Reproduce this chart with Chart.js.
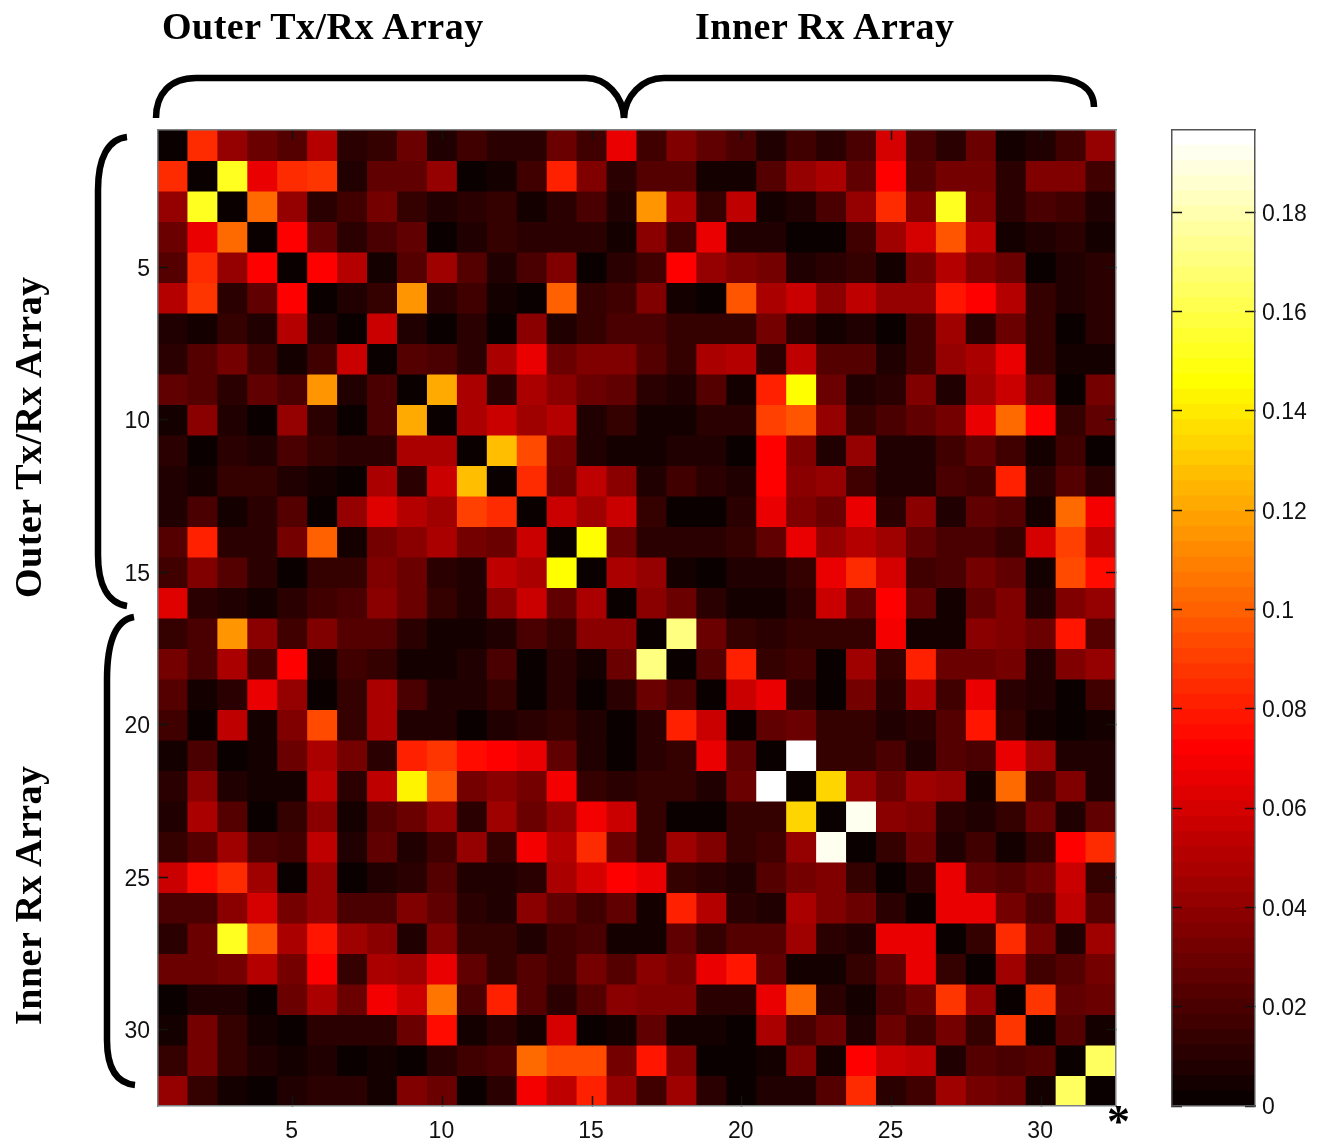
<!DOCTYPE html>
<html>
<head>
<meta charset="utf-8">
<title>Array coupling matrix</title>
<script src="https://cdn.jsdelivr.net/npm/chart.js@4/dist/chart.umd.min.js"></script>
<style>
    html, body { margin: 0; padding: 0; background: #fff; overflow: hidden; }
    #page { position: relative; width: 1328px; height: 1144px; }
    canvas { position: absolute; top: 0; }
    #matrixChart { left: 0; }
    #barChart { left: 1100px; }
    #braces { position: absolute; left: 0; top: 0; }
    .label {
        position: absolute;
        font: bold 38px "Liberation Serif", serif;
        letter-spacing: 0.5px;
        line-height: 1;
        white-space: nowrap;
        color: #000;
    }
    .vert { transform-origin: 0 0; transform: rotate(-90deg); }
</style>
</head>
<body>
<div id="page">
    <canvas id="matrixChart" width="1328" height="1144"></canvas>
    <canvas id="barChart" width="228" height="1144"></canvas>
    <svg id="braces" width="1328" height="1144" fill="none" stroke="#000" stroke-width="6.5">
        <path d="M156 118 C156 94 170 78 196 78 L586 78 C606 78 623 96 624 118"/>
        <path d="M624 118 C625 96 642 78 664 78 L1050 78 C1078 78 1094 88 1094 107"/>
        <path d="M127 137 C108 139 98 158 98 190 L98 555 C98 585 108 603 127 606"/>
        <path d="M134 617 C116 620 107 640 107 680 L107 1040 C107 1068 116 1083 135 1085"/>
    </svg>
    <div class="label" style="left:162px;top:7px">Outer Tx/Rx Array</div>
    <div class="label" style="left:695px;top:7px">Inner Rx Array</div>
    <div class="label vert" style="left:9px;top:598px">Outer Tx/Rx Array</div>
    <div class="label vert" style="left:9px;top:1025px">Inner Rx Array</div>
    <div class="label" style="left:1107px;top:1099px;font-size:46px">*</div>
</div>
<script>
// matrix values, in units of 0.001
const row01 = [1,85,41,28,24,51,11,13,30,9,17,12,12,30,18,65,16,34,26,19,7,18,11,19,60,20,11,30,4,8,17,43];
const row02 = [85,1,152,65,85,87,8,27,27,40,2,6,17,82,36,12,22,22,6,4,23,41,49,26,73,22,32,32,10,35,35,18];
const row03 = [41,152,1,104,43,11,16,33,15,9,11,14,6,12,21,8,116,49,14,53,4,7,20,42,84,34,153,34,10,20,18,8];
const row04 = [30,65,104,1,73,26,11,21,27,2,8,13,11,11,11,4,39,18,67,7,7,3,1,18,46,61,97,53,4,8,12,4];
const row05 = [22,85,41,73,1,71,50,6,22,45,22,9,21,34,3,12,16,71,41,35,32,7,11,15,4,31,51,36,30,1,8,11];
const row06 = [50,87,11,25,71,1,7,15,114,12,17,6,3,100,13,18,34,6,3,96,48,58,39,55,43,43,79,72,50,14,9,12];
const row07 = [8,6,14,9,50,7,1,58,7,2,11,3,37,7,14,19,20,15,15,13,32,12,4,8,3,17,44,11,30,13,3,12];
const row08 = [11,23,33,18,4,17,57,1,23,20,11,49,65,30,34,34,23,13,49,51,11,53,24,24,9,18,42,49,67,13,6,6];
const row09 = [25,24,12,25,20,114,7,21,1,121,49,11,49,39,29,27,11,7,22,6,82,147,28,9,12,34,7,44,58,30,1,32];
const row10 = [5,39,7,2,42,11,2,19,121,1,49,58,44,50,8,15,6,6,10,10,90,96,41,15,20,25,32,65,104,73,13,27];
const row11 = [11,1,10,7,20,13,11,11,49,49,1,128,93,32,9,6,6,9,9,1,73,34,8,41,8,9,17,27,18,4,18,1];
const row12 = [8,4,14,14,9,6,3,49,11,56,127,1,85,28,54,37,9,17,11,8,73,39,43,17,8,8,19,18,81,11,23,11];
const row13 = [8,20,6,11,23,3,41,62,50,44,92,83,1,57,45,58,15,3,2,11,65,35,28,67,11,39,9,27,23,6,103,68];
const row14 = [23,81,11,11,32,100,6,32,39,49,33,30,57,1,147,30,11,11,11,14,27,67,42,51,46,26,21,21,13,60,92,55];
const row15 = [18,35,23,12,3,15,15,36,30,11,9,53,49,147,1,49,40,6,2,8,8,14,67,84,60,18,21,32,26,4,93,76];
const row16 = [62,11,9,4,11,18,21,37,28,15,7,37,58,27,49,1,37,30,11,6,5,12,58,25,71,25,5,25,35,7,35,41];
const row17 = [15,20,116,37,16,34,23,23,10,6,6,8,19,13,39,37,1,171,30,14,10,15,15,15,68,6,6,37,35,30,77,23];
const row18 = [32,20,49,17,71,6,17,13,6,6,9,19,3,11,5,28,171,1,23,81,15,17,2,44,15,81,30,30,32,8,35,43];
const row19 = [23,4,11,66,41,2,13,49,21,9,9,15,1,11,1,11,30,21,1,57,65,10,2,32,12,50,17,65,11,7,1,16];
const row20 = [17,3,53,6,34,95,13,49,7,9,1,9,11,15,8,3,12,81,58,1,25,30,15,15,8,11,23,78,13,4,1,4];
const row21 = [6,20,3,6,30,49,32,10,80,89,74,72,65,25,8,3,10,13,65,27,1,196,15,13,21,9,23,20,65,44,7,9];
const row22 = [12,37,7,4,6,55,12,53,143,96,33,37,33,68,15,12,13,13,8,30,196,1,135,42,30,46,42,5,102,18,35,7];
const row23 = [8,49,22,1,13,39,5,23,30,41,10,44,30,43,68,58,15,2,2,13,13,134,1,192,37,35,12,9,15,30,7,25];
const row24 = [15,23,44,19,18,53,9,25,9,18,42,13,68,50,84,28,15,45,35,13,17,43,192,1,13,28,9,17,6,13,71,84];
const row25 = [58,74,84,45,3,41,3,9,12,23,9,7,11,48,60,72,67,15,12,8,22,31,35,13,1,11,65,26,23,30,58,15];
const row26 = [20,20,37,60,32,41,20,20,35,27,10,7,37,25,18,25,5,81,51,10,9,48,36,28,11,1,65,65,31,20,55,22];
const row27 = [11,28,152,97,49,78,44,39,7,35,15,13,7,17,19,5,5,25,15,22,23,46,11,9,65,65,1,15,84,33,8,44];
const row28 = [28,28,32,51,32,72,13,49,46,65,26,13,22,16,33,23,37,32,65,78,25,4,6,15,25,65,13,1,44,16,23,32];
const row29 = [3,8,9,3,30,49,30,68,56,105,19,81,23,11,23,37,34,34,11,10,66,102,11,5,21,28,87,42,1,89,25,30];
const row30 = [5,32,15,6,1,12,12,12,30,74,4,10,4,60,2,5,27,5,6,3,48,20,28,9,30,16,32,15,89,1,23,5];
const row31 = [13,32,15,8,6,8,3,4,1,12,17,19,104,94,94,32,79,35,1,1,6,34,4,72,58,55,7,23,20,23,1,165];
const row32 = [41,13,4,3,8,11,11,5,35,30,1,12,68,55,80,41,17,44,12,3,8,7,23,85,11,17,45,32,28,4,165,1];

const rows = [row01,row02,row03,row04,row05,row06,row07,row08,row09,row10,row11,row12,row13,row14,row15,row16,
              row17,row18,row19,row20,row21,row22,row23,row24,row25,row26,row27,row28,row29,row30,row31,row32];

const elementLabels = rows.map((r, i) => String(i + 1));
const elementTicks = [5, 10, 15, 20, 25, 30];
const barTicks = [0, 0.02, 0.04, 0.06, 0.08, 0.1, 0.12, 0.14, 0.16, 0.18];
const valueUnit = 0.001;
const barMax = 0.1966;
const colorLevels = 64;

const tickFont = { family: '"Liberation Sans", sans-serif', size: 23 };
const frameColor = '#7d8080';
const barFrameColor = '#555';
const tickColor = '#111';

// same steps as the matlab hot colormap
function hotColor(level) {
    const n = level + 1;
    const r = Math.min(1, n / 24);
    const g = Math.max(0, Math.min(1, (n - 24) / 24));
    const b = Math.max(0, Math.min(1, (n - 48) / 16));
    return `rgb(${Math.round(r * 255)},${Math.round(g * 255)},${Math.round(b * 255)})`;
}

function valueColor(value) {
    return hotColor(Math.min(colorLevels - 1, Math.floor(value / barMax * colorLevels)));
}

function gridOpts() {
    return {
        drawOnChartArea: false,
        offset: false,
        tickLength: -10,
        tickWidth: 1.5,
        tickColor: tickColor,
        z: 1
    };
}

function borderOpts(color) {
    return { color: color, width: 1.5, z: 2 };
}

function keepElementTicks(scale) {
    scale.ticks = scale.ticks.filter(t => elementTicks.includes(t.value + 1));
}

function setElementTicks(scale) {
    scale.ticks = elementTicks.map(v => ({ value: v }));
}

new Chart(document.getElementById('matrixChart'), {
    type: 'bar',
    data: {
        labels: elementLabels,
        datasets: rows.map((row, i) => ({
            label: 'Row ' + (i + 1),
            data: row.map(() => [i + 0.5, i + 1.5]),
            backgroundColor: row.map(v => valueColor(v * valueUnit)),
            borderWidth: 0,
            inflateAmount: 0.5,
            barPercentage: 1,
            categoryPercentage: 1,
            grouped: false
        }))
    },
    options: {
        responsive: false,
        animation: false,
        plugins: { legend: { display: false }, tooltip: { enabled: false } },
        scales: {
            x: {
                position: 'bottom',
                grid: gridOpts(),
                border: borderOpts(frameColor),
                afterBuildTicks: keepElementTicks,
                afterFit: s => { s.height = 38; },
                ticks: { autoSkip: false, maxRotation: 0, padding: 22, labelOffset: -1, color: '#111', font: tickFont }
            },
            xTop: {
                type: 'category',
                axis: 'x',
                position: 'top',
                labels: elementLabels,
                offset: true,
                grid: gridOpts(),
                border: borderOpts(frameColor),
                afterBuildTicks: keepElementTicks,
                afterFit: s => { s.height = 130; },
                ticks: { display: false }
            },
            y: {
                type: 'linear',
                position: 'left',
                min: 0.5,
                max: 32.5,
                reverse: true,
                grid: gridOpts(),
                border: borderOpts(frameColor),
                afterBuildTicks: setElementTicks,
                afterFit: s => { s.width = 158; },
                ticks: { autoSkip: false, padding: 18, labelOffset: 2, color: '#111', font: tickFont, callback: v => String(v) }
            },
            yRight: {
                type: 'linear',
                axis: 'y',
                position: 'right',
                min: 0.5,
                max: 32.5,
                reverse: true,
                grid: gridOpts(),
                border: borderOpts(frameColor),
                afterBuildTicks: setElementTicks,
                afterFit: s => { s.width = 212; },
                ticks: { display: false }
            }
        }
    }
});

// colour bar, one floating bar per colormap level
const levelIndex = Array.from({ length: colorLevels }, (_, i) => i);

new Chart(document.getElementById('barChart'), {
    type: 'bar',
    data: {
        labels: [''],
        datasets: levelIndex.map(level => ({
            label: 'Level ' + level,
            data: [[level / colorLevels * barMax, (level + 1) / colorLevels * barMax]],
            backgroundColor: hotColor(level),
            borderWidth: 0,
            inflateAmount: 0.5,
            barPercentage: 1,
            categoryPercentage: 1,
            grouped: false
        }))
    },
    options: {
        responsive: false,
        animation: false,
        plugins: { legend: { display: false }, tooltip: { enabled: false } },
        scales: {
            x: {
                position: 'bottom',
                grid: { display: false },
                border: borderOpts(barFrameColor),
                afterFit: s => { s.height = 38; },
                ticks: { display: false }
            },
            xTop: {
                type: 'category',
                axis: 'x',
                position: 'top',
                labels: [''],
                offset: true,
                grid: { display: false },
                border: borderOpts(barFrameColor),
                afterFit: s => { s.height = 130; },
                ticks: { display: false }
            },
            y: {
                type: 'linear',
                position: 'left',
                min: 0,
                max: barMax,
                grid: gridOpts(),
                border: borderOpts(barFrameColor),
                afterBuildTicks: s => { s.ticks = barTicks.map(v => ({ value: v })); },
                afterFit: s => { s.width = 72; },
                ticks: { display: false }
            },
            yRight: {
                type: 'linear',
                axis: 'y',
                position: 'right',
                min: 0,
                max: barMax,
                grid: gridOpts(),
                border: borderOpts(barFrameColor),
                afterBuildTicks: s => { s.ticks = barTicks.map(v => ({ value: v })); },
                afterFit: s => { s.width = 73; },
                ticks: { autoSkip: false, padding: 17, labelOffset: 2, color: '#111', font: tickFont, callback: v => String(v) }
            }
        }
    }
});
</script>
</body>
</html>
